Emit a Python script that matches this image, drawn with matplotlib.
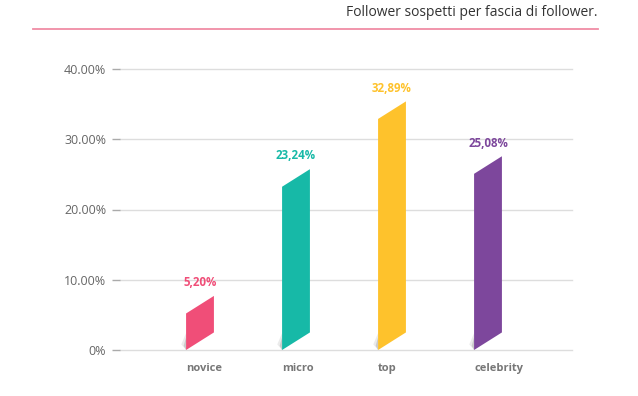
import matplotlib.pyplot as plt
from matplotlib.patches import Polygon

# data
categories = ["novice", "micro", "top", "celebrity"]
values = [5.20, 23.24, 32.89, 25.08]
value_labels = ["5,20%", "23,24%", "32,89%", "25,08%"]
colors = ["#F04E78", "#17B9A7", "#FEC22C", "#7D479C"]
yticks = [0, 10, 20, 30, 40]
ytick_labels = ["0%", "10.00%", "20.00%", "30.00%", "40.00%"]
title = "Follower sospetti per fascia di follower."

plt.rcParams['font.family'] = ['Open Sans', 'DejaVu Sans']

fig = plt.figure(figsize=(6.38, 3.96), dpi=100)
# axes placed in pixel terms: x 120..572, y0 at 350, y40 at 69
ax = fig.add_axes([120 / 638, (396 - 350) / 396, 452 / 638, 281 / 396])

w = 0.29        # bar width in category units
skew = 2.5      # rise of the right edge, in %

ax.set_xlim(-80 / 96, 372 / 96)
ax.set_ylim(0, 40)

for i, (v, c, lab) in enumerate(zip(values, colors, value_labels)):
    xl, xr = i - w / 2, i + w / 2
    # faint shadow at the foot of the bar (two layers for a soft edge)
    ax.add_patch(Polygon([(xl, 0), (xl, 2.4), (xl - 0.05, 0.8)], closed=True,
                         facecolor="#b0b0b0", edgecolor="none", alpha=0.25, zorder=2))
    ax.add_patch(Polygon([(xl, 0), (xl, 1.8), (xl - 0.025, 0.6)], closed=True,
                         facecolor="#909090", edgecolor="none", alpha=0.35, zorder=2))
    ax.add_patch(Polygon([(xl, 0), (xr, skew), (xr, v + skew), (xl, v)], closed=True,
                         facecolor=c, edgecolor="none", zorder=3))
    ax.annotate(lab, (i, v + skew), xytext=(0, 9.5), textcoords="offset points",
                ha="center", va="center", color=c, fontsize=8.3, fontweight="bold")
    ax.text(xl, -2.7, categories[i], ha="left", va="center", color="#777777",
            fontsize=8, fontweight="bold")

ax.set_yticks(yticks)
ax.set_yticklabels(ytick_labels)
ax.set_xticks([])
ax.tick_params(axis="y", length=6, width=1, color="#aaaaaa", labelcolor="#666666",
               labelsize=9, pad=4)
ax.grid(axis="y", color="#dddddd", linewidth=1)
for gl in ax.get_ygridlines():
    gl.set_clip_on(False)
ax.set_axisbelow(True)
for s in ax.spines.values():
    s.set_visible(False)

# header
fig.text(598 / 638, 1 - 13 / 396, title, ha="right", va="center",
         fontsize=10, color="#333333")
fig.add_artist(plt.Line2D([33 / 638, 598 / 638], [1 - 28.5 / 396] * 2,
                          color="#F08CA5", linewidth=1.3))

fig.savefig("out.png", dpi=100)
